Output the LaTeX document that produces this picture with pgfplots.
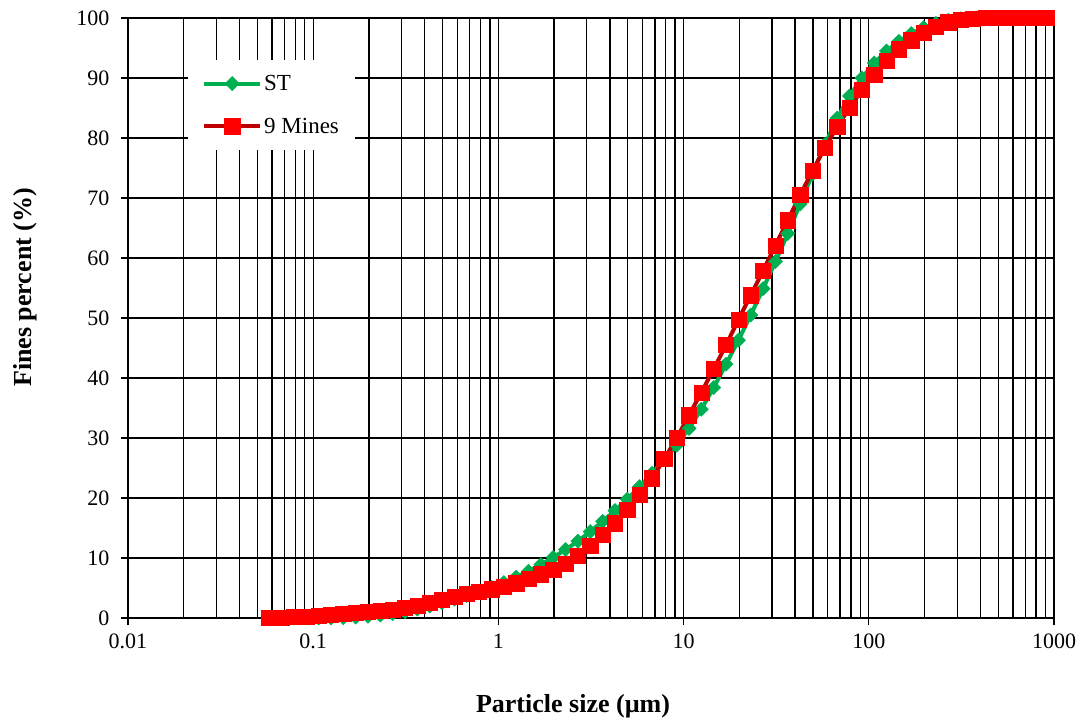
\documentclass[border=0pt]{standalone}
\usepackage{fontspec}
\setmainfont{Liberation Serif}
\usepackage{pgfplots}
\pgfplotsset{compat=1.18}
\usepackage{pgfplotstable}

\definecolor{stgreen}{RGB}{0,176,80}
\definecolor{minesline}{RGB}{192,0,0}
\definecolor{minesmark}{RGB}{255,0,0}

% cumulative passing (%) against particle size (um)
\pgfplotstableread{
size   st     mines
0.0579 0      0
0.0675 0      0.05
0.0787 0      0.15
0.0918 0      0.25
0.1070 0      0.4
0.1247 0      0.55
0.1454 0.05   0.7
0.1696 0.15   0.85
0.1977 0.3    1.0
0.2305 0.5    1.2
0.2688 0.75   1.4
0.3133 1.05   1.7
0.3653 1.5    2.1
0.4260 2.0    2.6
0.4966 2.55   3.1
0.5790 3.15   3.6
0.6751 3.75   4.0
0.7871 4.4    4.4
0.9177 5.1    4.8
1.070  5.9    5.2
1.247  6.8    5.8
1.454  7.8    6.5
1.696  8.9    7.3
1.977  10.1   8.1
2.305  11.4   9.1
2.688  12.8   10.4
3.133  14.4   12.0
3.653  16.1   13.9
4.260  17.9   15.8
4.966  19.8   18.0
5.790  21.9   20.5
6.751  24.1   23.3
7.871  26.4   26.5
9.177  28.8   30.0
10.70  31.6   33.8
12.47  34.8   37.6
14.54  38.4   41.5
16.96  42.3   45.5
19.77  46.3   49.7
23.05  50.5   53.8
26.88  54.9   57.9
31.33  59.4   62.1
36.53  64.1   66.3
42.60  69.0   70.5
49.66  74.0   74.5
57.90  78.9   78.4
67.51  83.3   81.9
78.71  87.0   85.0
91.77  90.0   88.0
107.0  92.5   90.6
124.7  94.5   92.9
145.4  96.1   94.8
169.6  97.4   96.3
197.7  98.4   97.6
230.5  99.1   98.6
268.8  99.6   99.3
313.3  99.85  99.7
365.3  100    99.9
426.0  100    100
496.6  100    100
579.0  100    100
675.1  100    100
787.1  100    100
917.7  100    100
}\psd

\begin{document}
\begin{tikzpicture}
\useasboundingbox (0,0) rectangle (1084pt,721pt);
\begin{axis}[
  at={(128pt,103pt)}, anchor=south west,
  scale only axis, width=926pt, height=600pt,
  xmode=log, xmin=0.01, xmax=1000, ymin=0, ymax=100,
  xtick={0.01,0.1,1,10,100,1000},
  xticklabels={0.01,0.1,1,10,100,1000},
  minor xtick={0.02,0.03,0.04,0.05,0.06,0.07,0.08,0.09,
               0.2,0.3,0.4,0.5,0.6,0.7,0.8,0.9,
               2,3,4,5,6,7,8,9,
               20,30,40,50,60,70,80,90,
               200,300,400,500,600,700,800,900},
  ytick={0,10,...,100},
  xmajorgrids, xminorgrids, ymajorgrids,
  grid style={black, line width=1.3pt},
  minor grid style={black, line width=1.3pt},
  axis line style={black, line width=1.8pt},
  tick style={black, line width=1.3pt},
  major tick length=7pt, minor tick length=0pt,
  tick align=outside, tick pos=left,
  /pgf/number format/assume math mode=true,
  tick label style={font=\fontsize{22}{26}\selectfont},
  xticklabel style={yshift=-5pt},
  yticklabel style={xshift=-8pt},
  xlabel={Particle size (µm)},
  ylabel={Fines percent (\%)},
  xlabel style={at={(axis description cs:0.4806,-0.1467)}, anchor=center,
                font=\bfseries\fontsize{26}{30}\selectfont},
  ylabel style={at={(axis description cs:-0.1112,0.551)}, anchor=center,
                font=\bfseries\fontsize{26}{30}\selectfont},
  clip=false,
  legend cell align=left,
  legend image code/.code={%
    \draw[mark repeat=2,mark phase=2,#1]
      plot coordinates {(0pt,0pt) (28pt,0pt) (56pt,0pt)};},
  legend style={at={(axis description cs:0.0648,0.93)}, anchor=north west,
                draw=none, fill=white, font=\fontsize{23}{27}\selectfont,
                row sep=22pt, inner xsep=14pt, inner ysep=13pt},
]
\addplot[stgreen, line width=4pt, mark=square*, mark size=5pt,
  mark options={rotate=45, fill=stgreen, draw=stgreen, line width=0.5pt}]
  table[x=size, y=st]{\psd};
\addlegendentry{ST}
\addplot[minesline, line width=4pt, mark=square*, mark size=7.6pt,
  mark options={fill=minesmark, draw=minesmark, line width=0.5pt}]
  table[x=size, y=mines]{\psd};
\addlegendentry{9 Mines}
\end{axis}
\end{tikzpicture}
\end{document}
